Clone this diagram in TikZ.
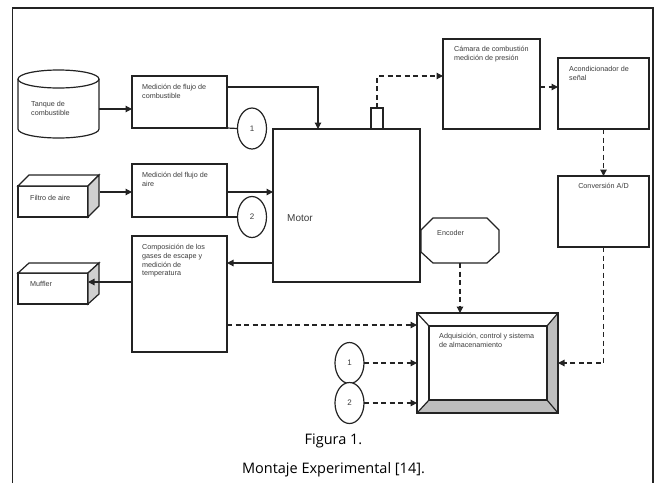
\documentclass[tikz,border=0pt]{standalone}
\usepackage{fontspec}
\setmainfont{Open Sans}
\newfontfamily\dfont{Liberation Sans}
\usetikzlibrary{arrows.meta,shapes.geometric,calc}

\definecolor{ink}{RGB}{35,35,35}
\definecolor{txt}{RGB}{60,60,60}
\definecolor{sidegray}{RGB}{208,208,208}
\definecolor{bevelgray}{RGB}{190,190,190}

\tikzset{
  box/.style={draw=ink, line width=1.2pt, fill=white, anchor=north west,
    inner sep=0pt, outer sep=0pt},
  ghost/.style={anchor=north west, inner sep=0pt, outer sep=0pt},
  solidline/.style={draw=ink, line width=1.2pt},
  lbl/.style={anchor=north west, inner sep=0pt, align=left, text=txt,
    font=\dfont\fontsize{7.2}{8.8}\selectfont},
  num/.style={draw=ink, line width=1.2pt, ellipse, fill=white,
    minimum width=29pt, minimum height=41pt, inner sep=0pt, outer sep=0pt,
    text=txt, font=\dfont\fontsize{8}{9}\selectfont},
  arr/.style={solidline, -{Triangle[length=6.5pt,width=6.5pt]}},
  darr/.style={solidline, dash pattern=on 5pt off 3.5pt,
    -{Triangle[length=6.5pt,width=6.5pt]}},
  caption/.style={text=black, inner sep=0pt, font=\fontsize{14.5}{17}\selectfont},
}

\begin{document}
\begin{tikzpicture}[x=1pt,y=-1pt]
\useasboundingbox (0,0) rectangle (656,483);

% outer frame (open at the bottom)
\draw[ink, line width=1.3pt] (12.5,483) -- (12.5,8) -- (653,8) -- (653,483);

% ---------- fuel tank (cylinder) ----------
\node[ghost, minimum width=81pt, minimum height=68pt] (tank) at (18,70) {};
\draw[solidline, fill=white] ([yshift=-9pt]tank.north west)
  -- ([yshift=9pt]tank.south west)
  arc[start angle=180, end angle=360, x radius=40.5pt, y radius=9pt]
  -- ([yshift=-9pt]tank.north east);
\draw[solidline] ([yshift=-9pt]tank.north) ellipse[x radius=40.5pt, y radius=9pt];
\node[lbl] (tank-t) at ([shift={(13pt,-31pt)}]tank.north west) {Tanque de\\combustible};

% ---------- air filter (cuboid) ----------
\node[box, minimum width=70pt, minimum height=31pt] (filtro) at (18,186) {};
\draw[solidline, fill=white] (filtro.north west) -- ([shift={(11pt,11pt)}]filtro.north west)
  -- ([shift={(11pt,11pt)}]filtro.north east) -- (filtro.north east) -- cycle;
\draw[solidline, fill=sidegray] (filtro.north east) -- ([shift={(11pt,11pt)}]filtro.north east)
  -- ([shift={(11pt,11pt)}]filtro.south east) -- (filtro.south east) -- cycle;
\node[lbl] (filtro-t) at ([shift={(12pt,-9pt)}]filtro.north west) {Filtro de aire};

% ---------- muffler (cuboid) ----------
\node[box, minimum width=70pt, minimum height=31pt] (muffler) at (18,273) {};
\draw[solidline, fill=white] (muffler.north west) -- ([shift={(11pt,10pt)}]muffler.north west)
  -- ([shift={(11pt,10pt)}]muffler.north east) -- (muffler.north east) -- cycle;
\draw[solidline, fill=sidegray] (muffler.north east) -- ([shift={(11pt,10pt)}]muffler.north east)
  -- ([shift={(11pt,10pt)}]muffler.south east) -- (muffler.south east) -- cycle;
\node[lbl] (muffler-t) at ([shift={(12pt,-8pt)}]muffler.north west) {Muffler};

% ---------- measurement boxes ----------
\node[box, minimum width=95pt, minimum height=52pt] (mfc) at (132,76) {};
\node[lbl] (mfc-t) at ([shift={(10pt,-8pt)}]mfc.north west) {Medición de flujo de\\combustible};

\node[box, minimum width=95pt, minimum height=53pt] (mfa) at (132,164) {};
\node[lbl] (mfa-t) at ([shift={(10pt,-8pt)}]mfa.north west) {Medición del flujo de\\aire};

\node[box, minimum width=95pt, minimum height=116pt] (comp) at (132,236) {};
\node[lbl] (comp-t) at ([shift={(10pt,-8pt)}]comp.north west)
  {Composición de los\\gases de escape y\\medición de\\temperatura};

% ---------- engine ----------
\node[box, minimum width=147pt, minimum height=153pt] (motor) at (273,129) {};
\node[anchor=west, inner sep=0pt, text=txt, font=\dfont\fontsize{10}{12}\selectfont]
  (motor-t) at (287,218) {Motor};
\node[box, minimum width=12pt, minimum height=21pt] (sens) at (371,108) {};

% ---------- encoder (octagon) ----------
\node[ghost, minimum width=78pt, minimum height=45pt] (enc) at (421,218) {};
\draw[solidline, fill=white]
  ([yshift=-12pt]enc.north west) -- ([xshift=12pt]enc.north west)
  -- ([xshift=-12pt]enc.north east) -- ([yshift=-12pt]enc.north east)
  -- ([yshift=11pt]enc.south east) -- ([xshift=-12pt]enc.south east)
  -- ([xshift=12pt]enc.south west) -- ([yshift=11pt]enc.south west) -- cycle;
\node[lbl] (enc-t) at ([shift={(16pt,-12pt)}]enc.north west) {Encoder};

% ---------- signal chain ----------
\node[box, minimum width=97pt, minimum height=90pt] (cam) at (443,39) {};
\node[lbl] (cam-t) at ([shift={(11pt,-7pt)}]cam.north west)
  {Cámara de combustión\\medición de presión};

\node[box, minimum width=91pt, minimum height=71pt] (acond) at (558,58) {};
\node[lbl] (acond-t) at ([shift={(11pt,-8pt)}]acond.north west) {Acondicionador de\\señal};

\node[box, minimum width=91pt, minimum height=71pt] (conv) at (558,176) {};
\node[lbl, anchor=north] (conv-t) at ([yshift=-7pt]conv.north) {Conversión A/D};

% ---------- acquisition block (bevelled frame) ----------
\node[box, minimum width=141pt, minimum height=100pt] (adq) at (417,313) {};
\coordinate (ia) at ([shift={(12pt,-13pt)}]adq.north west);
\coordinate (ib) at ([shift={(-11pt,-13pt)}]adq.north east);
\coordinate (ic) at ([shift={(-11pt,13pt)}]adq.south east);
\coordinate (id) at ([shift={(12pt,13pt)}]adq.south west);
\fill[bevelgray] (adq.north east) -- (ib) -- (ic) -- (adq.south east) -- cycle;
\fill[bevelgray] (adq.south west) -- (id) -- (ic) -- (adq.south east) -- cycle;
\draw[solidline] (adq.north west) rectangle (adq.south east);
\draw[solidline] (ia) rectangle (ic);
\draw[solidline] (adq.north west) -- (ia) (adq.north east) -- (ib)
  (adq.south east) -- (ic) (adq.south west) -- (id);
\node[lbl] (adq-t) at ([shift={(10pt,-7pt)}]ia) {Adquisición, control y sistema\\de almacenamiento};

% ---------- numbered connectors ----------
\node[num] (c1) at (252,128.5) {1};
\node[num] (c2) at (252,217) {2};
\node[num] (c1b) at (349.5,363) {1};
\node[num] (c2b) at (349.5,403) {2};

% ---------- solid flows ----------
\draw[arr] ([yshift=-5pt]tank.east) coordinate (t1) -- (t1 -| mfc.west);
\draw[arr] ([yshift=-11pt]mfc.north east) -| ([xshift=45pt]motor.north west);
\draw[solidline] (mfc.south east) -- (c1.west);
\coordinate (a1) at ([yshift=-28pt]mfa.north west);
\coordinate (a2) at ([yshift=-28pt]mfa.north east);
\draw[arr] ([xshift=12pt]filtro.east |- a1) -- (a1);
\draw[arr] (a2) -- (a2 -| motor.west);
\draw[solidline] (mfa.south east) -- (c2.west);
\coordinate (t2) at ([yshift=-27pt]comp.north east);
\draw[arr] (t2 -| motor.west) -- (t2);
\draw[arr] ([yshift=-46pt]comp.north west) coordinate (t4) -- (t4 -| muffler.east);

% ---------- dashed signals ----------
\draw[darr] (sens.north) |- ([yshift=-37pt]cam.north west);
\draw[darr] ([yshift=-48pt]cam.north east) coordinate (s1) -- (s1 -| acond.west);
\draw[darr] (acond.south) -- (conv.north);
\draw[darr] (conv.south) |- (c1b.east -| adq.east);
\draw[darr] (enc.south) -- (enc.south |- adq.north);
\draw[darr] ([yshift=-89pt]comp.north east) coordinate (s2) -- (s2 -| adq.west);
\draw[darr] (c1b.east) -- (c1b.east -| adq.west);
\draw[darr] (c2b.east) -- (c2b.east -| adq.west);

% ---------- caption ----------
\node[caption] (fig) at (333.5,441) {Figura 1.};
\node[caption] (cap) at (333.5,470) {Montaje Experimental [14].};
\end{tikzpicture}
\end{document}
